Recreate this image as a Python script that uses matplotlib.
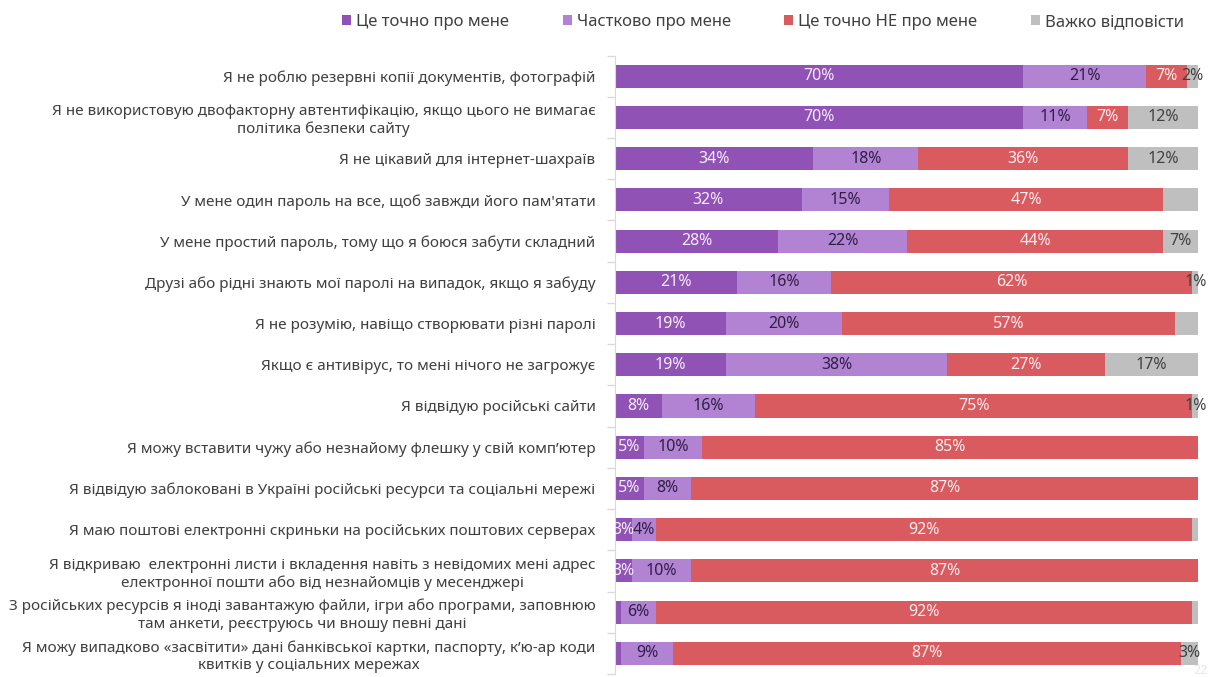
import matplotlib
matplotlib.use("Agg")
import matplotlib.pyplot as plt
from matplotlib.patches import Patch
import numpy as np

plt.rcParams['font.family'] = ['Noto Sans', 'DejaVu Sans']

categories = [
    "Я не роблю резервні копії документів, фотографій",
    "Я не використовую двофакторну автентифікацію, якщо цього не вимагає\nполітика безпеки сайту",
    "Я не цікавий для інтернет-шахраїв",
    "У мене один пароль на все, щоб завжди його пам'ятати",
    "У мене простий пароль, тому що я боюся забути складний",
    "Друзі або рідні знають мої паролі на випадок, якщо я забуду",
    "Я не розумію, навіщо створювати різні паролі",
    "Якщо є антивірус, то мені нічого не загрожує",
    "Я відвідую російські сайти",
    "Я можу вставити чужу або незнайому флешку у свій комп’ютер",
    "Я відвідую заблоковані в Україні російські ресурси та соціальні мережі",
    "Я маю поштові електронні скриньки на російських поштових серверах",
    "Я відкриваю  електронні листи і вкладення навіть з невідомих мені адрес\nелектронної пошти або від незнайомців у месенджері",
    "З російських ресурсів я іноді завантажую файли, ігри або програми, заповнюю\nтам анкети, реєструюсь чи вношу певні дані",
    "Я можу випадково «засвітити» дані банківської картки, паспорту, к’ю-ар коди\nквитків у соціальних мережах",
]

series_names = ["Це точно про мене", "Частково про мене", "Це точно НЕ про мене", "Важко відповісти"]
certain = [70, 70, 34, 32, 28, 21, 19, 19, 8, 5, 5, 3, 3, 1, 1]
partly  = [21, 11, 18, 15, 22, 16, 20, 38, 16, 10, 8, 4, 10, 6, 9]
not_me  = [7, 7, 36, 47, 44, 62, 57, 27, 75, 85, 87, 92, 87, 92, 87]
hard    = [2, 12, 12, 6, 7, 1, 4, 17, 1, 0, 0, 1, 0, 1, 3]

# (series index, row index) whose value labels are not shown in the original
hidden_labels = {(3, 3), (3, 6), (0, 13), (0, 14), (3, 11), (3, 13)}

colors = ["#9152b6", "#b282d3", "#d95b5f", "#bfbfbf"]
label_colors = ["#f4eef8", "#2f1f45", "#fbeeee", "#404040"]

fig = plt.figure(figsize=(12.14, 6.77), dpi=100)
ax_left = 615 / 1214
ax_w = (1207 - 615) / 1214
ax_top = 1 - 55.5 / 677
ax_bot = 1 - 674 / 677
ax = fig.add_axes([ax_left, ax_bot, ax_w, ax_top - ax_bot])

data = [certain, partly, not_me, hard]
n = len(categories)
y = np.arange(n)
left = np.zeros(n)
for si, vals in enumerate(data):
    vals = np.array(vals, dtype=float)
    # rounded shares may sum to 101 -> keep the stacked bar inside 100 %
    widths = np.minimum(vals, 100 - left)
    ax.barh(y, widths, left=left, height=0.56, color=colors[si], edgecolor='none')
    for ri in range(n):
        v = vals[ri]
        if v <= 0 or (si, ri) in hidden_labels:
            continue
        ax.text(left[ri] + widths[ri] / 2, y[ri], f"{int(v)}%", ha='center', va='center',
                fontsize=11.5, color=label_colors[si], clip_on=True)
    left += widths

ax.set_xlim(0, 101.5)
ax.set_ylim(n - 0.5, -0.5)
ax.set_xticks([])
ax.set_yticks(y)
ax.set_yticklabels(categories, fontsize=11, color="#404040", multialignment='center',
                   linespacing=1.2)
ax.tick_params(axis='y', which='major', length=0, pad=14)
ax.set_yticks(np.arange(-0.5, n, 1.0), minor=True)
ax.tick_params(axis='y', which='minor', length=6, color="#d9d9d9", width=1)
for s in ['top', 'right', 'bottom']:
    ax.spines[s].set_visible(False)
ax.spines['left'].set_color("#d9d9d9")

handles = [Patch(facecolor=c, edgecolor='none') for c in colors]
fig.legend(handles, series_names, loc='center', bbox_to_anchor=(763 / 1214, 1 - 22 / 677),
           ncol=4, frameon=False, fontsize=12, handlelength=0.55, handleheight=0.55,
           handletextpad=0.3, columnspacing=3.2, labelcolor="#404040")

fig.text(1200 / 1214, 1 - 670 / 677, "22", fontsize=9, color="#e6e6e6", ha='center', va='center')

fig.savefig("out.png", dpi=100)
